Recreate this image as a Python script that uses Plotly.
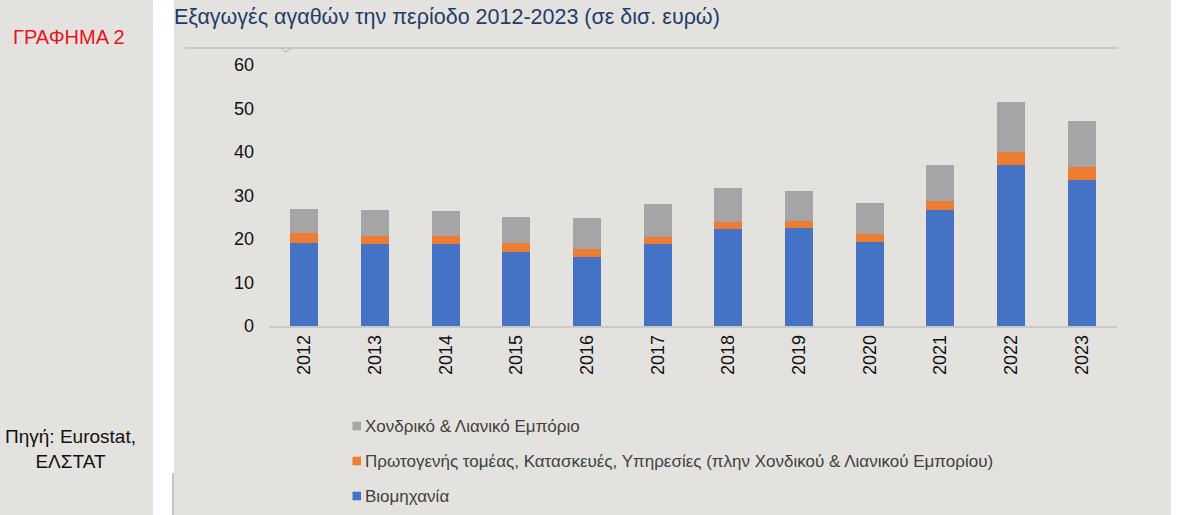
import plotly.graph_objects as go

W, H = 1182, 515
# plot area in pixels
L, R, T, B = 269, 1117, 65, 326

years = ["2012", "2013", "2014", "2015", "2016", "2017",
         "2018", "2019", "2020", "2021", "2022", "2023"]
viomixania = [19.0, 18.9, 18.8, 17.0, 15.8, 18.8, 22.2, 22.5, 19.2, 26.7, 37.0, 33.6]
protogenis = [2.3, 1.8, 1.9, 2.0, 1.9, 1.7, 1.8, 1.7, 2.0, 2.0, 3.0, 3.0]
emporio = [5.7, 5.9, 5.7, 6.1, 7.1, 7.5, 7.7, 6.9, 7.1, 8.2, 11.4, 10.6]

names = ["Βιομηχανία",
         "Πρωτογενής τομέας, Κατασκευές, Υπηρεσίες (πλην Χονδικού & Λιανικού Εμπορίου)",
         "Χονδρικό & Λιανικό Εμπόριο"]
colors = ["#4472c4", "#ed7d31", "#a5a5a5"]

BG = "#e4e2de"
FONT = "Arial, Liberation Sans, sans-serif"


def px(x):
    return (x - L) / (R - L)


def py(y):
    return (B - y) / (B - T)


fig = go.Figure()
for vals, nm, col in zip([viomixania, protogenis, emporio], names, colors):
    fig.add_trace(go.Bar(x=years, y=vals, name=nm, marker_color=col,
                         marker_line_width=0, showlegend=False))

shapes = [
    # side panel, main panel
    dict(type="rect", xref="paper", yref="paper", x0=px(0), x1=px(153), y0=py(0), y1=py(H),
         fillcolor=BG, line_width=0, layer="below"),
    dict(type="rect", xref="paper", yref="paper", x0=px(174), x1=px(1171), y0=py(0), y1=py(H),
         fillcolor=BG, line_width=0, layer="below"),
    # line under title
    dict(type="line", xref="paper", yref="paper", x0=px(185), x1=px(1118), y0=py(48), y1=py(48),
         line=dict(color="#a9afb6", width=1)),
    dict(type="path", xref="paper", yref="paper",
         path=f"M {px(281)},{py(48)} L {px(286)},{py(52)} L {px(291)},{py(48)}",
         line=dict(color="#a9afb6", width=1)),
    # small vertical line bottom left
    dict(type="line", xref="paper", yref="paper", x0=px(173), x1=px(173), y0=py(473), y1=py(H),
         line=dict(color="#8a8a8a", width=1)),
]

annotations = [
    dict(text="Εξαγωγές αγαθών την περίοδο 2012-2023 (σε δισ. ευρώ)", xref="paper", yref="paper",
         x=px(172), y=py(17), xanchor="left", yanchor="middle", showarrow=False,
         font=dict(family=FONT, size=21.5, color="#1f3d6b")),
    dict(text="ΓΡΑΦΗΜΑ 2", xref="paper", yref="paper",
         x=px(69), y=py(37), xanchor="center", yanchor="middle", showarrow=False,
         font=dict(family=FONT, size=20, color="#e8141c")),
    dict(text="Πηγή: Eurostat,<br>ΕΛΣΤΑΤ", xref="paper", yref="paper",
         x=px(70), y=py(449), xanchor="center", yanchor="middle", showarrow=False,
         align="center", font=dict(family=FONT, size=19, color="#111111")),
]

# legend drawn by hand (top of the stack listed first)
legend_y = [496, 461, 426]
for nm, col, yc in zip(names, colors, legend_y):
    shapes.append(dict(type="rect", xref="paper", yref="paper",
                       x0=px(352.5), x1=px(361), y0=py(yc - 4.3), y1=py(yc + 4.3),
                       fillcolor=col, line_width=0))
    annotations.append(dict(text=nm, xref="paper", yref="paper",
                            x=px(363), y=py(yc), xanchor="left", yanchor="middle",
                            showarrow=False,
                            font=dict(family=FONT, size=17, color="#404040")))

fig.update_layout(
    width=W, height=H, autosize=False,
    margin=dict(l=L, r=W - R, t=T, b=H - B),
    paper_bgcolor="white", plot_bgcolor=BG,
    barmode="stack", bargap=0.6,
    font=dict(family=FONT, size=18, color="#111111"),
    shapes=shapes, annotations=annotations,
    showlegend=False,
    xaxis=dict(type="category", tickangle=-90, showgrid=False, ticks="",
               showline=True, linecolor="#c9c9c9", linewidth=1.5,
               tickfont=dict(size=18, color="#111111")),
    yaxis=dict(range=[0, 60], dtick=10, showgrid=False, zeroline=False, ticks="",
               showline=False, ticklabelstandoff=14,
               tickfont=dict(size=18, color="#111111")),
)

fig.write_html("out.html", config={"responsive": False, "displayModeBar": False},
               post_script="document.body.style.margin='0';")
